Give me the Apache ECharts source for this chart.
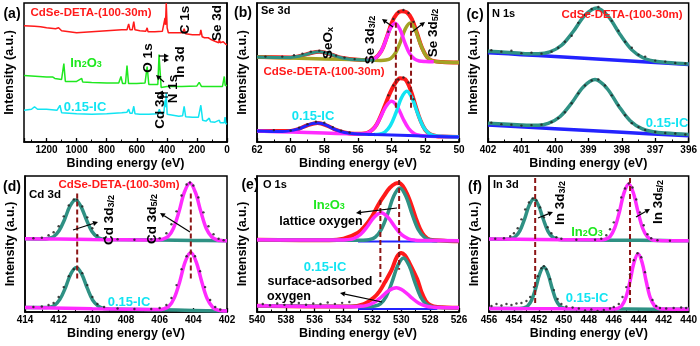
<!DOCTYPE html>
<html><head><meta charset="utf-8">
<script src="https://cdn.jsdelivr.net/npm/echarts@6/dist/echarts.min.js"></script>
<style>html,body{margin:0;padding:0;background:#fff}#c{width:700px;height:346px}</style>
</head><body><div id="c"></div>
<script>
// ---------- (a) survey spectra : [binding energy, intensity] ----------
const aRed = [[1350,117],[1280,116.5],[1240,116],[1200,115],[1140,114],[1120,115],[1111,117],[1100,112],[1090,110],[1000,110],[900,111],[800,112],[700,113],[665,113],[654,119],[645,113],[630,113],[620,121.3],[612,113],[580,112],[540,111.5],[531,115],[525,111],[480,111],[430,111.5],[412,125],[409,118],[404,140],[398,115],[390,110],[320,110],[295,110],[285,114],[275,109],[230,108],[200,108],[180,108],[174,113],[165,106],[150,105],[125,105],[118,107],[110,103.5],[80,101.5],[55,100],[51,103],[45,100],[25,101],[18,99.5],[13,103],[8,98.5],[0,98]];
const aGreen = [[1350,67],[1300,66.5],[1250,66],[1200,65.5],[1160,65.5],[1145,64],[1100,63],[1085,79],[1075,61],[1000,61],[966,64],[960,60.5],[900,60],[800,59.5],[720,59.5],[705,66],[695,59],[675,59],[665,77],[655,59],[600,59],[545,59.5],[531,76],[520,58],[460,58],[452,88],[444,86],[438,55],[400,56],[300,56],[200,56.5],[185,60],[170,56],[100,56],[30,56],[18,66],[12,57],[0,57]];
const aCyan = [[1350,32],[1300,33],[1280,35.5],[1260,33],[1200,33],[1130,32],[1111,37],[1100,29.5],[1090,28],[1000,28.5],[900,28],[800,28.5],[700,29.5],[665,30],[654,33],[645,29],[630,29],[620,36],[612,28.5],[580,28],[540,28],[531,30],[520,28],[460,28.5],[450,33],[440,28.5],[420,29],[412,42],[409,35],[404,49],[398,28],[390,26],[320,26],[295,26.5],[285,36],[275,25.5],[230,25],[190,25],[174,37],[162,22],[140,21],[118,24],[110,20.5],[80,20],[51,22],[45,19.5],[18,19.5],[13,25],[8,18.5],[0,18]];

// ---------- (b) Se 3d ----------
const bTopSum = [[62,85.5],[60,85.2],[59.5,86.4],[59,88.7],[58.5,90.7],[58.3,90.8],[58,90.2],[57.5,87.6],[57,84.9],[56,82.8],[55.5,82.6],[55,84.3],[54.6,92.1],[54.3,105.1],[54,119.9],[53.7,128.9],[53.4,131.6],[53.1,130.5],[52.8,123.8],[52.5,109.8],[52.2,94.9],[51.9,85.7],[51.6,81.9],[51,80.5],[50,80]];
const bTopSeOx = [[62,85.5],[61,85.1],[60,85.2],[59.5,86.4],[59,88.7],[58.5,90.7],[58.3,90.8],[58,90.2],[57.5,87.6],[57,84.9],[56.5,83.4],[56,82.8],[55,82.3]];
const bTop32 = [[55.5,82.6],[55.24,83.0],[54.95,84.8],[54.66,90.2],[54.38,101],[54.09,113.9],[53.8,119.7],[53.51,113.6],[53.23,100.5],[52.94,89.3],[52.65,83.6],[52.36,81.6],[52,81.0],[51.5,80.8]];
const bTop52 = [[62,85.5],[60,84.6],[58,83.7],[56,82.8],[55,82.3],[54.63,82.2],[54.34,82.5],[54.05,84.3],[53.76,89.9],[53.48,100.9],[53.19,113.9],[52.9,119.9],[52.61,113.6],[52.33,100.4],[52.04,89.1],[51.75,83.2],[51.46,81.2],[51,80.5],[50,80.0]];
const bTopRaw = [[61.5,86],[60.5,86],[59.8,87.5],[59.3,89],[58.8,91],[58.3,92],[57.8,90.5],[57.3,87],[56.8,85],[56.2,83.5],[54.2,111],[53.9,124],[53.6,131],[53.3,133],[53,130],[52.7,121]];
const bBotSum = [[62,11],[60,11.1],[59.5,13.3],[59,16.9],[58.4,19.2],[57.8,16.3],[57.3,12.2],[56.8,9.5],[56.2,8.2],[55.5,8.9],[55,15],[54.7,24.2],[54.4,36.7],[54.1,49.2],[53.8,58.8],[53.5,64.3],[53.2,63.2],[52.9,53.5],[52.6,37.5],[52.3,22.1],[52,12.1],[51.7,7.7],[51.3,5.85],[51,5.5],[50,5]];
const bBotSeOx = [[62,11],[60.5,10.5],[59.5,13.3],[59,16.9],[58.7,18.6],[58.4,19.2],[58.1,18.4],[57.8,16.3],[57.3,12.2],[56.8,9.5],[56.2,8.2],[55,7.5],[53,6.5],[50,5]];
const bBot32 = [[62,11],[60,10],[58,9],[56.5,8.25],[56,8.1],[55.69,8.3],[55.35,9.8],[55.01,14.6],[54.68,24.4],[54.34,35.8],[54,41],[53.66,35.4],[53.33,23.7],[52.99,13.6],[52.65,8.4],[52.31,6.6],[52,6],[51,5.5],[50,5]];
const bBot52 = [[55.05,7.6],[54.73,7.95],[54.4,10],[54.08,16.4],[53.75,29.2],[53.43,44.1],[53.1,51.1],[52.78,43.8],[52.45,28.5],[52.13,15.4],[51.8,8.7],[51.48,6.35],[51.15,5.7],[50,5]];
const bBotRaw = [[61,12],[60,11.5],[59.5,14.5],[59,18],[58.5,20.5],[58,19.5],[57.5,15],[57,11.5],[56.5,9.5],[54.2,47],[53.9,57],[53.6,63],[53.3,65],[53,60],[52.7,43]];
const bDash = [[53.75,120,33],[52.85,120,33]];

// ---------- (c) N 1s ----------
const cTopBase = [[402,90],[401,88],[400,86],[399,84],[398,82],[397,80],[396,78]];
const cTopFit = [[402,91.5],[401.5,90.4],[401,89.3],[400.85,89.0],[400.5,88.9],[400.15,90.7],[399.8,97.4],[399.45,111.3],[399.1,127.7],[398.75,135],[398.4,126.3],[398.05,108.2],[397.7,92.8],[397.35,84.6],[397,81.4],[396.65,80.1],[396,78.6]];
const cTopRaw = [[401.9,92.5],[401.6,91],[401.3,92],[401,89.5],[400.7,90],[400.4,89],[400.1,91],[399.9,95],[399.7,101],[399.5,107],[399.3,120],[399.1,128],[398.9,134],[398.7,136],[398.5,131],[398.3,122],[398.1,112],[397.9,101],[397.7,95],[397.5,88],[397.3,86],[397,82],[396.7,81],[396.4,79.5],[396.1,79]];
const cBotBase = [[402,17],[400,13.4],[398,9.8],[396,6.2]];
const cBotFit = [[402,19],[401,17.1],[400.85,16.9],[400.5,16.9],[400.2,18.7],[399.85,25.4],[399.5,39.2],[399.15,55.5],[398.8,62.9],[398.45,54.3],[398.1,36.6],[397.75,21.4],[397.4,13.4],[397.05,10.3],[396.7,9.0],[396,7.6]];
const cBotRaw = [[401.9,19.5],[401.6,18],[401.3,17.5],[401,16.5],[400.7,17],[400.4,17.5],[400.1,20],[399.9,24],[399.7,30],[399.5,39],[399.3,49],[399.1,57],[398.9,62],[398.7,63],[398.5,57],[398.3,47],[398.1,37],[397.9,27],[397.7,19],[397.5,15],[397.3,12],[397,10],[396.7,9],[396.4,8.5],[396.1,7.5]];

// ---------- (d) Cd 3d ----------
const dTop32 = [[414,73.5],[412.95,73.3],[412.63,73.8],[412.3,75.7],[411.98,81.5],[411.65,92.9],[411.33,106.2],[411,112.5],[410.68,106.1],[410.35,92.6],[410.03,81.1],[409.7,75.2],[409.38,73.1],[409.05,72.7],[406,72.2],[404,71.8],[402,71.5]];
const dTop52 = [[414,73.5],[412,73.2],[410,72.8],[408,72.5],[406.15,72.3],[405.83,73.0],[405.5,75.7],[405.18,84.1],[404.85,100.8],[404.53,120.3],[404.2,129.5],[403.88,120.2],[403.55,100.5],[403.23,83.8],[402.9,75.2],[402.58,72.3],[402.25,71.6],[402,71.5]];
const dTopRaw = [[413.5,74],[413,74.5],[412.6,77],[412.3,80],[412,86],[411.7,96],[411.4,107],[411.1,113],[410.9,113],[410.6,106],[410.3,95],[410,84],[409.7,77],[409.3,74],[408.5,73],[407.5,72.5],[406.5,73],[406,74],[405.6,79],[405.3,88],[405,101],[404.7,117],[404.4,128],[404.2,130],[404,127],[403.7,115],[403.4,100],[403.1,86],[402.8,78],[402.5,73.5],[402.2,72]];
const dBot32 = [[414,4.5],[412.9,4.4],[412.58,4.7],[412.25,6.7],[411.93,12.6],[411.6,24.3],[411.28,38.2],[410.95,44.6],[410.63,38.0],[410.3,23.9],[409.98,11.9],[409.65,5.8],[409.33,3.5],[409,3.0],[406,2.2],[404,1.6],[402,1.0]];
const dBot52 = [[414,4.5],[410,3.3],[408,2.8],[406.1,2.4],[405.78,3.0],[405.45,5.7],[405.13,14.2],[404.8,30.9],[404.48,50.5],[404.15,59.6],[403.83,50.3],[403.5,30.4],[403.18,13.5],[402.85,4.8],[402.53,1.8],[402.2,1.1],[402,1.0]];
const dBotRaw = [[413.5,5],[413,5.5],[412.6,7],[412.3,9],[412,15],[411.7,25],[411.4,36],[411.1,43],[410.9,45],[410.6,39],[410.3,27],[410,15],[409.7,8],[409.3,5],[408.5,3.5],[407.5,3],[406.5,3],[406,4],[405.6,7],[405.3,14],[405,27],[404.7,43],[404.4,56],[404.15,60],[403.9,56],[403.6,41],[403.3,25],[403,12],[402.7,5],[402.4,2.5]];
const dDash = [[410.9,119,32.5],[404.15,119,32.5]];

// ---------- (e) O 1s ----------
const eTopRaw = [[540,72.5],[535,72],[534,73.5],[533,79.5],[532.5,86.5],[532,96.5],[531.6,107.5],[531.2,116.5],[530.8,124.5],[530.4,129],[530.15,129.5],[529.9,126.5],[529.6,118.5],[529.3,107.5],[529,94.5],[528.7,83.5],[528.4,76.5],[528,72.5],[527,71.5],[526,71]];
const eTopLat = [[540,72.5],[534,72.1],[532.65,72.1],[532.23,72.6],[531.8,75.2],[531.38,83.0],[530.95,98.2],[530.53,116.1],[530.1,124.5],[529.68,116.1],[529.25,98.1],[528.83,82.8],[528.4,75.0],[527.98,72.3],[527.55,71.7],[526,71.5]];
const eTopAds = [[540,72.5],[537,72.3],[534.25,72.2],[533.78,72.5],[533.3,73.7],[532.83,77.8],[532.35,85.8],[531.88,95.1],[531.4,99.5],[530.93,95.1],[530.45,85.6],[529.98,77.6],[529.5,73.5],[529.03,72.1],[528.55,71.8],[526,71.5]];
const eTopBg = [[533,70.8],[527.5,70.8]];
const eBotRaw = [[540,6.2],[535,5.5],[533.5,5.5],[532.6,8],[531.9,14.5],[531.5,21],[531.15,29.5],[530.66,42.5],[530.3,55.5],[530,59.2],[529.75,57],[529.5,51],[528.9,33],[528.6,20],[528.3,11],[528,7],[527.5,5],[526,4.2]];
const eBotNoise = [[539.6,8],[539.1,6.8],[538.6,8.5],[538.1,7.2],[537.6,8.2],[537.1,9],[536.6,7.3],[536.1,8.6],[535.6,8.1],[535.1,9.5],[534.6,8.2],[534.1,9.2],[533.6,10]];
const eBotLat = [[540,6.2],[534,5.6],[532.25,5.4],[531.85,5.9],[531.45,8.2],[531.05,15.4],[530.65,29.7],[530.25,46.5],[529.85,54.3],[529.45,46.3],[529.05,29.5],[528.65,15.0],[528.25,7.7],[527.85,5.2],[527.45,4.5],[526,4.2]];
const eBotAds = [[540,6.2],[536,5.6],[533.5,5.3],[532.98,5.6],[532.45,6.4],[531.93,9.2],[531.4,14.8],[530.88,21.3],[530.35,24.3],[529.83,21.1],[529.3,14.5],[528.78,8.8],[528.25,5.8],[527.73,4.8],[527.2,4.5],[526,4.2]];
const eBotBg = [[533,3],[527.5,3]];
const eDash = [[531.45,112.5,29.5],[530.15,132.5,42.5]];

// ---------- (f) In 3d ----------
const fTop32 = [[456,73.2],[454.65,73.1],[454.28,73.5],[453.9,75.5],[453.53,81.4],[453.15,93.3],[452.78,107.1],[452.4,113.5],[452.03,107.0],[451.65,93.1],[451.28,81.2],[450.9,75.1],[450.53,73.1],[450.15,72.6],[446,72.1],[442,71.7],[440,71.5]];
const fTop52 = [[456,73.2],[452,72.8],[448,72.4],[447.05,72.3],[446.68,73.0],[446.3,75.7],[445.93,84.1],[445.55,100.4],[445.18,119.6],[444.8,128.5],[444.43,119.5],[444.05,100.2],[443.68,83.8],[443.3,75.3],[442.93,72.5],[442.55,71.8],[440,71.5]];
const fTopRaw = [[455.5,73.5],[454.8,74],[454.3,76],[454,79],[453.7,84],[453.4,93],[453.1,103],[452.8,110],[452.5,114],[452.2,112],[451.9,105],[451.6,95],[451.3,85],[451,79],[450.6,75],[450.2,73.5],[449,72.5],[447.5,72.5],[447,73.5],[446.6,77],[446.3,83],[446,90],[445.7,102],[445.4,115],[445.1,124],[444.8,129],[444.5,125],[444.2,113],[443.9,100],[443.6,87],[443.3,78],[443,74],[442.5,72],[441.5,71.5]];
const fBot32 = [[456,3.5],[453.55,3.5],[453.23,4.0],[452.9,6.0],[452.58,12.1],[452.25,24.2],[451.93,38.5],[451.6,45.1],[451.28,38.5],[450.95,24.2],[450.63,12.1],[450.3,5.8],[449.98,3.8],[449.65,3.3],[445,3.0],[440,2.7]];
const fBot52 = [[456,3.5],[450,3.2],[446,3.1],[445.68,3.7],[445.35,6.5],[445.03,14.6],[444.7,30.7],[444.38,49.6],[444.05,58.4],[443.73,49.6],[443.4,30.6],[443.08,14.5],[442.75,6.4],[442.43,3.6],[442.1,3.0],[440,2.7]];
const fBotRaw = [[455.8,6],[455.4,8],[455,6.5],[454.6,8],[454.2,7],[453.8,8.5],[453.4,9],[453,11],[452.7,15],[452.4,25],[452.1,36],[451.8,44],[451.6,46],[451.4,43],[451.1,33],[450.8,22],[450.5,13],[450.2,8],[449.8,5.5],[449.3,4.5],[448.8,3.5],[448.3,1.5],[447.8,2.5],[447.3,1],[446.8,2],[446.3,3.5],[446,5],[445.6,8],[445.3,15],[445,25],[444.7,38],[444.4,52],[444.1,59],[443.8,55],[443.5,40],[443.2,24],[442.9,12],[442.6,6],[442.3,4],[441.8,3.5],[441.2,4],[440.6,4.5],[440.2,4]];
const fDash = [[452.3,134.5,7.5],[444.7,134.5,7.5]];

// axis ranges [min, max, interval]
const xRanges = [[0,1350,200],[50,62,2],[396,402,1],[402,414,2],[526,540,2],[440,456,2]];

// ---------- rendering ----------
const FONT = '"Liberation Sans", Arial, sans-serif';
const C = {red:'#ff1a1a', teal:'#2f9184', mag:'#ff2bff', olive:'#a3a324', blue:'#2323ff', cyan:'#12e4f2', green:'#1fe81f', dash:'#8b1515', raw:'#222'};
const grids = [
  {left:24, top:3, width:203, height:139},
  {left:257, top:3, width:202, height:139},
  {left:488, top:3, width:203, height:139},
  {left:25, top:176, width:202, height:136},
  {left:257, top:176, width:202, height:136},
  {left:489, top:176, width:202, height:136}
].map(g => Object.assign({show:true, borderColor:'#000', borderWidth:1.5, backgroundColor:'transparent'}, g));

const xAxes = xRanges.map((r,i) => ({
  gridIndex:i, type:'value', min:r[0], max:r[1], interval:r[2], inverse:true,
  axisLine:{show:true, lineStyle:{color:'#000', width:1.5}},
  axisTick:{show:true, inside:true, length:4, lineStyle:{color:'#000', width:1.3}},
  minorTick:{show:true, splitNumber:2, length:2.5, lineStyle:{color:'#000', width:1}},
  splitLine:{show:false},
  axisLabel:{color:'#000', fontSize:10, fontWeight:'bold', fontFamily:FONT, margin:3,
    showMaxLabel: i===0 ? false : true, formatter: v => String(v)},
  name:'Binding energy (eV)', nameLocation:'middle', nameGap:15,
  nameTextStyle:{color:'#000', fontSize:12.5, fontWeight:'bold', fontFamily:FONT}
}));
const yAxes = grids.map((g,i) => ({
  gridIndex:i, type:'value', min:0, max:(i<3?140:136.5),
  axisLine:{show:true, lineStyle:{color:'#000', width:1.5}},
  axisTick:{show:false}, axisLabel:{show:false}, splitLine:{show:false},
  name:'Intensity (a.u.)', nameLocation:'middle', nameGap:8, nameRotate:90,
  nameTextStyle:{color:'#000', fontSize:12.5, fontWeight:'bold', fontFamily:FONT}
}));

function L(gi, data, color, w, smooth){
  return {type:'line', xAxisIndex:gi, yAxisIndex:gi, data, showSymbol:false, silent:true,
    smooth: smooth===undefined ? 0.35 : smooth, lineStyle:{color, width:w}, itemStyle:{color}};
}
function S(gi, data){
  return {type:'scatter', xAxisIndex:gi, yAxisIndex:gi, data, symbol:'circle', symbolSize:2.4, silent:true,
    itemStyle:{color:C.raw, opacity:0.85}, z:3};
}
function D(gi, d){
  return {type:'line', xAxisIndex:gi, yAxisIndex:gi, data:[[d[0],d[1]],[d[0],d[2]]], showSymbol:false, silent:true,
    lineStyle:{color:C.dash, width:2, type:[5,3]}, z:5};
}
const series = [
  L(0,aRed,C.red,1.5,false), L(0,aGreen,C.green,1.5,false), L(0,aCyan,C.cyan,1.5,false),
  S(1,bTopRaw), S(1,bBotRaw),
  L(1,bTopSum,C.red,4), L(1,bTop52,C.olive,3.5), L(1,bTop32,C.mag,3.5), L(1,bTopSeOx,C.teal,3),
  L(1,bBotSum,C.red,4), L(1,bBot32,C.mag,3.5), L(1,bBot52,C.cyan,3.5), L(1,bBotSeOx,C.blue,3),
  D(1,bDash[0]), D(1,bDash[1]),
  L(2,cTopBase,C.blue,3.5), L(2,cTopFit,C.teal,3.5), L(2,cBotBase,C.blue,3.5), L(2,cBotFit,C.teal,3.5),
  S(2,cTopRaw), S(2,cBotRaw),
  L(3,dTop32,C.teal,3.5), L(3,dTop52,C.mag,3.5), L(3,dBot32,C.teal,3.5), L(3,dBot52,C.mag,3.5),
  S(3,dTopRaw), S(3,dBotRaw),
  D(3,dDash[0]), D(3,dDash[1]),
  S(4,eBotNoise),
  L(4,eTopRaw,C.red,4), L(4,eTopBg,C.blue,2,false), L(4,eTopLat,C.teal,3.5), L(4,eTopAds,C.mag,3.5),
  L(4,eBotRaw,C.red,4), L(4,eBotBg,C.blue,2,false), L(4,eBotLat,C.teal,3.5), L(4,eBotAds,C.mag,3.5),
  D(4,eDash[0]), D(4,eDash[1]),
  L(5,fTop32,C.teal,3.5), L(5,fTop52,C.mag,3.5), L(5,fBot32,C.teal,3.5), L(5,fBot52,C.mag,3.5),
  S(5,fTopRaw), S(5,fBotRaw),
  D(5,fDash[0]), D(5,fDash[1])
];

// ---------- annotations ----------
function T(x,y,text,o){
  o = o || {};
  const color = o.color || '#000';
  return {type:'text', x, y, rotation: o.rot ? Math.PI/2 : 0, z:100, silent:true,
    style:{text, fill:color, fontSize:o.size||(o.rot?13.5:13), fontWeight:'bold', fontFamily:FONT,
      align:o.align||'center', verticalAlign:'middle',
      rich:{s:{fontSize:(o.sub||9), fontWeight:'bold', fontFamily:FONT, fill:color, verticalAlign:'bottom'}}}};
}
function A(x1,y1,x2,y2){
  const dx=x2-x1, dy=y2-y1, len=Math.hypot(dx,dy), ux=dx/len, uy=dy/len, h=5, w=2.6;
  const bx=x2-ux*h, by=y2-uy*h;
  return [
    {type:'line', z:100, silent:true, shape:{x1, y1, x2:bx, y2:by}, style:{stroke:'#000', lineWidth:1.2}},
    {type:'polygon', z:100, silent:true, shape:{points:[[x2,y2],[bx-uy*w,by+ux*w],[bx+uy*w,by-ux*w]]}, style:{fill:'#000'}}
  ];
}
const RED_NAME = 'CdSe-DETA-(100-30m)';
const graphics = [
  // (a)
  T(12,14,'(a)',{size:14}), T(91,13,RED_NAME,{color:C.red,size:11.5}),
  T(185,20,'C 1s',{rot:1}), T(217,23,'Se 3d',{rot:1}),
  T(86,63,'In{s|2}O{s|3}',{color:C.green}), T(148,58,'O 1s',{rot:1}), T(180,62,'In 3d',{rot:1}),
  T(173,89,'N 1s',{rot:1}), T(85,107,'0.15-IC',{color:C.cyan}), T(160,110,'Cd 3d',{rot:1}),
  ...A(159,56,169,56), ...A(162,60,169,60), ...A(164,82,156,75),
  ...A(168,93,158,93), ...A(168,97,158,97),
  // (b)
  T(243,13,'(b)',{size:14}), T(261,11,'Se 3d',{align:'left',size:11}),
  T(328,43,'SeO{s|x}',{rot:1}), T(370,40,'Se 3d{s|3/2}',{rot:1}), T(433,33,'Se 3d{s|5/2}',{rot:1}),
  ...A(393,27,382,19), ...A(412,32,425,22),
  T(324,72,RED_NAME,{color:C.red,size:11.5}), T(313,116,'0.15-IC',{color:C.cyan}),
  // (c)
  T(475,15,'(c)',{size:14}), T(492,14,'N 1s',{align:'left',size:11}),
  T(622,15,RED_NAME,{color:C.red,size:11.5}), T(667,123,'0.15-IC',{color:C.cyan}),
  // (d)
  T(12,187,'(d)',{size:14}), T(45,195,'Cd 3d',{size:11.5}), T(119,185,RED_NAME,{color:C.red,size:11.5}),
  T(109,220,'Cd 3d{s|3/2}',{rot:1}), T(152,219,'Cd 3d{s|5/2}',{rot:1}),
  ...A(73,230,98,222), ...A(190,232,160,213),
  T(129,302,'0.15-IC',{color:C.cyan}),
  // (e)
  T(250,185,'(e)',{size:14}), T(263,185,'O 1s',{align:'left',size:11}),
  T(329,205,'In{s|2}O{s|3}',{color:C.green}), T(321,222,'lattice oxygen',{size:12.5}),
  ...A(397,208,356,213),
  T(325,267,'0.15-IC',{color:C.cyan}), T(320,282,'surface-adsorbed',{size:12.5}), T(289,297,'oxygen',{size:12.5}),
  ...A(382,302,340,293),
  // (f)
  T(475,187,'(f)',{size:14}), T(493,185,'In 3d',{align:'left',size:11}),
  T(560,203,'In 3d{s|3/2}',{rot:1}), T(658,202,'In 3d{s|5/2}',{rot:1}),
  ...A(538,218,553,212), ...A(636,217,650,209),
  T(587,232,'In{s|2}O{s|3}',{color:C.green}), T(587,298,'0.15-IC',{color:C.cyan})
];

const chart = echarts.init(document.getElementById('c'), null, {renderer:'canvas', width:700, height:346});
chart.setOption({
  animation:false, backgroundColor:'#fff',
  grid:grids, xAxis:xAxes, yAxis:yAxes, series, graphic:{elements:graphics}
});
</script></body></html>
